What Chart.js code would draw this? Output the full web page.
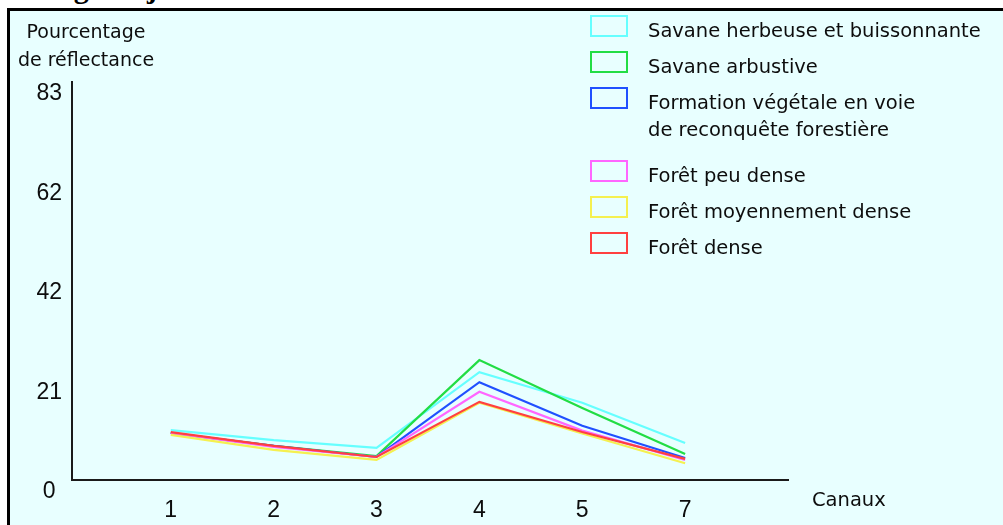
<!DOCTYPE html>
<html><head><meta charset="utf-8">
<script src="https://cdn.jsdelivr.net/npm/chart.js@4.4.0/dist/chart.umd.min.js"></script>
<style>
html,body{margin:0;padding:0;background:#fff;width:1003px;height:525px;overflow:hidden;}
#title{position:absolute;left:22px;top:-27px;font:bold 30px "Liberation Serif",serif;color:#000;white-space:nowrap;line-height:30px;}
#frame{position:absolute;left:7px;top:8px;width:1010px;height:530px;border-left:3px solid #000;border-top:3px solid #000;background:#e8ffff;}
#wrap{position:absolute;left:0;top:0;width:1003px;height:525px;}
</style></head><body>
<div id="title">Image de janvier 1988</div>
<div id="frame"></div>
<div id="wrap"><canvas id="c" width="1003" height="525"></canvas></div>
<script>
const categories = ['1', '2', '3', '4', '5', '7'];
const yTickLabels = ['0', '21', '42', '62', '83'];
const yMax = 83;
const xTitle = 'Canaux';
const yTitle = ['Pourcentage', 'de réflectance'];

const seriesNames = [
  'Savane herbeuse et buissonnante',
  'Savane arbustive',
  'Formation végétale en voie de reconquête forestière',
  'Forêt peu dense',
  'Forêt moyennement dense',
  'Forêt dense'
];
const legendLines = [
  ['Savane herbeuse et buissonnante'],
  ['Savane arbustive'],
  ['Formation végétale en voie', 'de reconquête forestière'],
  ['Forêt peu dense'],
  ['Forêt moyennement dense'],
  ['Forêt dense']
];
const seriesColors = ['#66ffff', '#22dd44', '#2050ff', '#ff66ff', '#f5f050', '#ff4040'];

const savaneHerbeuse   = [10.4, 8.3, 6.7, 22.5, 16.1, 7.7];
const savaneArbustive  = [ 9.8, 7.1, 5.0, 25.0, 15.0, 5.4];
const formationVeg     = [ 9.8, 7.1, 4.8, 20.4, 11.3, 4.6];
const foretPeuDense    = [ 9.8, 6.9, 4.8, 18.4, 10.3, 4.2];
const foretMoyDense    = [ 9.4, 6.3, 4.2, 16.1,  9.7, 3.5];
const foretDense       = [10.0, 7.1, 4.8, 16.3, 10.0, 4.4];
const seriesValues = [savaneHerbeuse, savaneArbustive, formationVeg, foretPeuDense, foretMoyDense, foretDense];

const FONT = '"DejaVu Sans"';
const TICKFONT = '"Liberation Sans"';
const TXT = '#0d0d0d';

const datasets = seriesValues.map((vals, i) => ({
  label: seriesNames[i],
  data: vals.map((v, j) => ({x: j + 1, y: v})),
  borderColor: seriesColors[i],
  backgroundColor: seriesColors[i],
  borderWidth: 2.2,
  pointRadius: 0,
  tension: 0,
  fill: false,
  order: seriesValues.length - 1 - i
}));

const annotate = {
  id: 'annotate',
  afterDraw(chart) {
    const ctx = chart.ctx, a = chart.chartArea;
    ctx.save();
    ctx.fillStyle = TXT;
    ctx.textBaseline = 'alphabetic';
    ctx.font = '19px ' + FONT;
    ctx.textAlign = 'center';
    ctx.fillText(yTitle[0], 86, 38);
    ctx.fillText(yTitle[1], 86, 66);
    ctx.textAlign = 'left';
    ctx.font = '19.5px ' + FONT;
    ctx.fillText(xTitle, a.right + 24, 506);
    // legend
    let top = 15;
    chart.data.datasets.forEach((ds, i) => {
      ctx.strokeStyle = ds.borderColor;
      ctx.lineWidth = 2;
      ctx.strokeRect(591, top + 1, 36, 20);
      ctx.fillStyle = TXT;
      legendLines[i].forEach((line, k) => {
        ctx.fillText(line, 648, top + 22 + k * 27);
      });
      top += 36 + (legendLines[i].length - 1) * 37;
    });
    ctx.restore();
  }
};

new Chart(document.getElementById('c'), {
  type: 'line',
  data: {datasets},
  plugins: [annotate],
  options: {
    responsive: false,
    animation: false,
    events: [],
    layout: {padding: {top: 82, right: 215, bottom: 0, left: 0}},
    plugins: {legend: {display: false}, tooltip: {enabled: false}, title: {display: false}},
    scales: {
      x: {
        type: 'linear',
        min: 0.04,
        max: 7,
        afterBuildTicks: s => { s.ticks = categories.map((c, i) => ({value: i + 1})); },
        afterFit: s => { s.height = 45; },
        grid: {display: false, drawTicks: false},
        border: {display: true, color: '#1a1a1a', width: 2},
        ticks: {
          callback: (v) => categories[Math.round(v) - 1],
          font: {family: TICKFONT, size: 23},
          color: TXT,
          padding: 17,
          maxRotation: 0,
          autoSkip: false
        }
      },
      y: {
        type: 'linear',
        min: 0,
        max: yMax,
        afterBuildTicks: s => { s.ticks = yTickLabels.map((l, i) => ({value: yMax * i / (yTickLabels.length - 1)})); },
        afterFit: s => { s.width = 72; },
        grid: {display: false, drawTicks: false},
        border: {display: true, color: '#1a1a1a', width: 2},
        ticks: {
          callback: (v, i) => yTickLabels[i],
          font: {family: TICKFONT, size: 23},
          color: TXT,
          padding: 10,
          crossAlign: 'center',
          labelOffset: 12
        }
      }
    }
  }
});
</script>
</body></html>
